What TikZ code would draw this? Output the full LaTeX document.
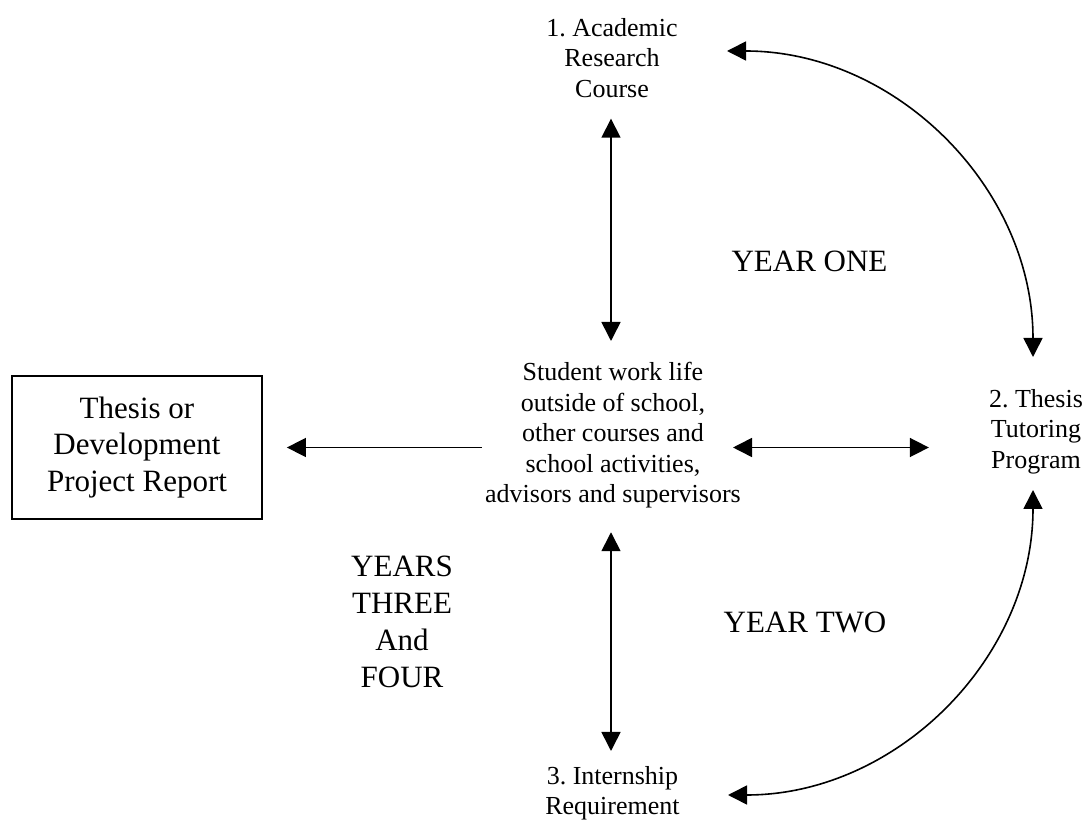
\documentclass[tikz,border=0pt]{standalone}
\usepackage{fontspec}
\setmainfont{Liberation Serif}
\usetikzlibrary{arrows.meta}
\frenchspacing
\tikzset{
  small/.style={font=\fontsize{26}{30.5}\selectfont, align=center, inner sep=0pt},
  big/.style={font=\fontsize{31}{36.8}\selectfont, align=center, inner sep=0pt},
  conn/.style={line width=1.6pt, {Triangle[length=19pt,width=19pt]}-{Triangle[length=19pt,width=19pt]}},
  oneway/.style={line width=1.6pt, -{Triangle[length=19pt,width=19pt]}},
  reportbox/.style={draw, line width=1.8pt, minimum width=250pt, minimum height=143pt}
}
\begin{document}
\begin{tikzpicture}[x=1pt,y=1pt]
\useasboundingbox (0,0) rectangle (1088,820);
% nodes
\node[small, anchor=north] (acad) at (612,802) {1. Academic\\Research\\Course};
\node[small, anchor=north] (center) at (613,458) {Student work life\\outside of school,\\other courses and\\school activities,\\advisors and supervisors};
\node[small, anchor=north] (thesis) at (1036,431) {2. Thesis\\Tutoring\\Program};
\node[small, anchor=north] (intern) at (612.5,54) {3. Internship\\Requirement};
\node[big, reportbox] (report) at (137,372.5) {Thesis or\\Development\\Project Report};
\node[big, anchor=north] (years34) at (402,264) {YEARS\\THREE\\And\\FOUR};
\node[big, anchor=base] (year1) at (809.5,548) {YEAR ONE};
\node[big, anchor=base] (year2) at (805,187) {YEAR TWO};
% arc end points
\coordinate (arcAstart) at (727,769);
\coordinate (arcBstart) at (1033,330);
% straight connectors
\draw[conn, shorten <=21pt, shorten >=21pt] (acad.south -| 611,0) -- (center.north -| 611,0);
\draw[conn, shorten <=24pt, shorten >=15pt] (center.south -| 611,0) -- (intern.north -| 611,0);
\draw[oneway, shorten <=3pt, shorten >=24pt] (center.west |- report.east) -- (report.east);
\draw[conn, shorten <=-8pt, shorten >=60pt] (center.east |- report.east) -- (thesis.west |- report.east);
% curved connectors
\draw[conn] (arcAstart) arc[start angle=90, end angle=0, radius=306];
\draw[conn] (arcBstart) arc[start angle=0, end angle=-90, radius=305];
\end{tikzpicture}
\end{document}
